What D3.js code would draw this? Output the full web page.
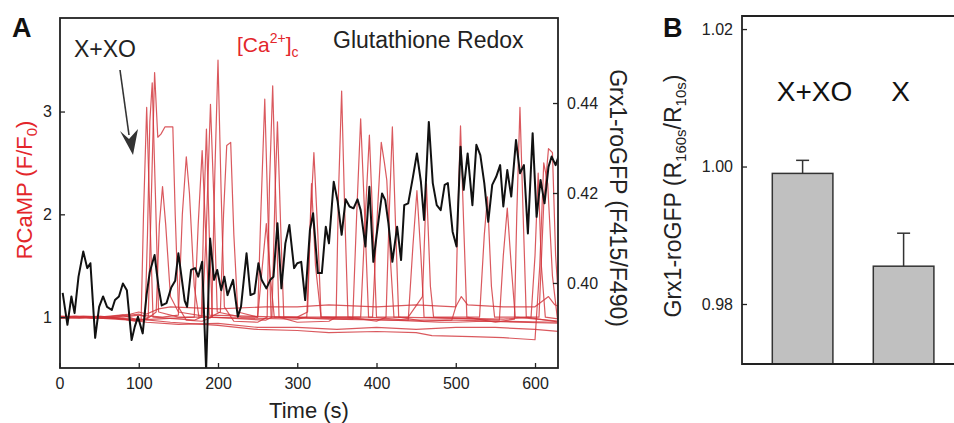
<!DOCTYPE html>
<html>
<head>
<meta charset="utf-8">
<script src="https://cdn.jsdelivr.net/npm/d3@7"></script>
<style>
  body { margin: 0; background: #fff; }
  text { font-family: "Liberation Sans", Arial, sans-serif; }
</style>
</head>
<body>
<script>
// glutathione redox trace (black, right axis)
let redoxTime = [4,10,15,19,24,30,35,39,45,50,55,60,66,70,75,80,85,91,95,99,105,110,114,120,125,129,135,141,146,150,158,161,166,171,175,180,185,190,195,199,204,208,212,219,225,229,236,241,246,251,255,261,266,270,275,280,285,290,296,300,305,310,316,320,326,331,336,340,346,351,356,361,366,371,376,380,386,391,396,401,407,411,415,420,426,431,435,440,446,451,456,460,466,471,476,481,486,490,496,501,506,510,515,521,526,531,536,541,546,551,556,560,565,570,576,581,586,591,597,602,607,612,617,621,626,631];
let redoxValue = [0.3978,0.3907,0.3970,0.3933,0.4014,0.4070,0.4033,0.4044,0.3878,0.3947,0.3970,0.3947,0.3940,0.3962,0.3970,0.3999,0.3984,0.3873,0.3903,0.3925,0.3888,0.3975,0.4025,0.4062,0.3990,0.3950,0.3955,0.3990,0.4005,0.4066,0.3960,0.3947,0.4029,0.4033,0.4014,0.4047,0.3807,0.4099,0.4007,0.4029,0.3984,0.4014,0.3973,0.4007,0.3925,0.3947,0.4066,0.3973,0.3977,0.4044,0.4007,0.3988,0.4007,0.4014,0.4133,0.3988,0.4088,0.4129,0.4033,0.4044,0.4047,0.3962,0.4118,0.4155,0.4022,0.4022,0.4125,0.4088,0.4225,0.4181,0.4107,0.4186,0.4170,0.4166,0.4186,0.4162,0.4081,0.4214,0.4047,0.4118,0.4199,0.4184,0.4133,0.4047,0.4125,0.4051,0.4173,0.4177,0.4236,0.4288,0.4225,0.4140,0.4358,0.4222,0.4173,0.4162,0.4218,0.4222,0.4114,0.4081,0.4303,0.4207,0.4288,0.4173,0.4307,0.4284,0.4222,0.4136,0.4218,0.4236,0.4262,0.4170,0.4251,0.4192,0.4318,0.4244,0.4262,0.4110,0.4333,0.4147,0.4229,0.4177,0.4258,0.4281,0.4262,0.4288];

// RCaMP traces of single cells, [time, F/F0]
let cell1 = [[0,1.0],[20,1.01],[40,0.99],[60,1.0],[80,1.02],[95,0.98],[105,0.97],[112,1.0],[116,2.2],[120,3.38],[124,2.75],[128,2.78],[133,2.85],[143,2.85],[146,2.0],[150,1.1],[160,0.97],[180,0.96],[192,1.0],[196,2.4],[200,3.5],[204,2.2],[208,1.1],[220,0.96],[250,0.95],[262,1.0],[265,2.3],[269,3.25],[273,2.1],[277,1.0],[300,0.95],[340,0.96],[349,1.0],[352,2.2],[356,3.2],[360,2.0],[364,1.0],[400,0.96],[412,1.0],[416,2.0],[420,2.85],[424,1.9],[428,1.0],[460,0.96],[495,0.97],[500,1.1],[503,2.1],[506,2.86],[510,1.9],[514,1.0],[550,0.95],[574,0.98],[577,2.0],[581,3.04],[585,2.0],[589,1.0],[631,0.95]];
let cell2 = [[0,0.99],[30,1.0],[60,0.99],[90,1.02],[100,1.03],[108,1.0],[111,1.8],[114,2.9],[117,3.28],[121,2.2],[125,1.05],[150,1.0],[180,1.0],[185,1.8],[190.5,3.07],[195,2.1],[199,1.05],[230,1.0],[250,1.0],[254,2.0],[259,3.12],[263,2.0],[267,1.0],[300,1.0],[313,1.05],[317,2.0],[321,2.6],[326,1.8],[330,1.0],[380,1.0],[386,2.0],[391,2.77],[396,1.8],[400,1.0],[440,1.0],[458,1.2],[463,2.3],[468,1.3],[472,1.0],[530,1.0],[536,1.8],[540,2.17],[545,1.3],[549,1.0],[605,1.0],[611,2.1],[617,2.64],[622,2.6],[626,1.6],[631,1.0]];
let cell3 = [[0,1.0],[25,0.99],[50,1.01],[75,0.99],[95,0.96],[103,0.97],[106,2.0],[110,3.04],[114,2.0],[118,1.0],[170,0.97],[179,1.0],[182,2.0],[185.4,2.83],[189,1.8],[193,1.0],[260,0.97],[268,1.0],[272,2.2],[275,2.9],[279,1.9],[283,1.0],[370,0.98],[375,2.0],[380,2.93],[385,2.0],[390,1.0],[440,0.97],[446,1.7],[451,2.23],[456,1.6],[460,1.0],[555,0.97],[560,1.6],[565,2.06],[570,1.5],[575,1.0],[631,0.96]];
let cell4 = [[0,1.0],[30,1.01],[60,1.0],[90,0.97],[110,0.98],[122,1.05],[126,1.9],[130,2.27],[134,1.9],[140,1.2],[150,1.05],[190,1.0],[203,1.05],[207,2.0],[211,2.67],[216,2.7],[220,1.8],[225,1.05],[250,1.0],[256,1.5],[261,1.91],[266,1.4],[271,1.0],[395,1.0],[401,2.0],[406,2.7],[410,2.5],[413,2.33],[418,1.5],[422,1.0],[560,0.98],[595,1.0],[600,1.6],[604,2.4],[608,1.5],[613,1.0],[631,0.98]];
let cell5 = [[0,1.01],[40,1.0],[80,1.0],[100,1.02],[130,1.0],[150,1.02],[155,2.0],[160,2.56],[164,2.2],[170,1.3],[176,1.0],[300,0.98],[312,1.0],[315,1.6],[318,2.3],[323,1.5],[330,1.0],[480,0.95],[500,0.95],[535,0.96],[631,0.94]];
let cell6 = [[0,1.0],[50,1.0],[90,1.03],[100,1.05],[110,1.03],[125,1.08],[140,1.1],[200,1.08],[260,1.1],[300,1.1],[340,1.12],[400,1.1],[450,1.12],[500,1.1],[507,1.2],[515,1.12],[560,1.1],[600,1.1],[617,1.2],[625,1.12],[631,1.1]];
let cell7 = [[0,1.0],[50,0.99],[90,0.97],[110,0.95],[150,0.93],[200,0.94],[250,0.9],[300,0.9],[350,0.88],[400,0.9],[450,0.88],[500,0.9],[550,0.9],[600,0.88],[631,0.86]];
let cell8 = [[0,1.0],[60,0.99],[100,0.98],[140,0.95],[200,0.92],[250,0.88],[300,0.87],[340,0.85],[400,0.86],[450,0.85],[470,0.82],[520,0.81],[560,0.8],[600,0.78],[606,1.5],[611,2.5],[616,2.3],[622,1.4],[628,1.0],[631,0.92]];
let cell9 = [[0,0.99],[45,1.0],[85,0.98],[100,0.97],[120,0.98],[170,1.0],[175,1.9],[180,2.62],[184,1.9],[189,1.02],[280,1.0],[340,0.98],[420,0.97],[500,0.97],[560,0.96],[631,0.95]];

let timeTicks = [0,100,200,300,400,500,600];
let rcampTicks = [1,2,3];
let grxTicks = [0.40,0.42,0.44];

// panel B
let groups = ['X+XO', 'X'];
let ratioMean = [0.9990, 0.9855];
let ratioErr = [0.0019, 0.0048];
let ratioTicks = [0.98, 1.00, 1.02];

let svg = d3.select('body').append('svg').attr('width', 954).attr('height', 423);

let x = d3.scaleLinear().domain([0, 629]).range([59.5, 558]);
let yL = d3.scaleLinear().domain([0.505, 3.91]).range([368, 18]);
let yR = d3.scaleLinear().domain([0.3811, 0.4589]).range([368, 18]);

svg.append('clipPath').attr('id', 'clipA')
  .append('rect').attr('x', 60).attr('y', 18).attr('width', 498).attr('height', 350);

let plot = svg.append('g').attr('clip-path', 'url(#clipA)');

let cells = [cell9, cell7, cell8, cell6, cell5, cell4, cell3, cell2, cell1];
let redLine = d3.line().x(function(d) {return x(d[0])}).y(function(d) {return yL(d[1])});
plot.selectAll('path.cell').data(cells).enter().append('path')
  .attr('class', 'cell')
  .attr('d', redLine)
  .attr('fill', 'none')
  .attr('stroke', '#d2343a')
  .attr('stroke-opacity', 0.82)
  .attr('stroke-width', 1.2)
  .attr('stroke-linejoin', 'round');

let redoxLine = d3.line()
  .x(function(d, i) {return x(redoxTime[i])})
  .y(function(d) {return yR(d)});
plot.append('path').datum(redoxValue)
  .attr('d', redoxLine)
  .attr('fill', 'none')
  .attr('stroke', '#111')
  .attr('stroke-width', 2)
  .attr('stroke-linejoin', 'round');

// axes, ticks pointing inward
let axB = svg.append('g').attr('transform', 'translate(0,368)')
  .call(d3.axisBottom(x).tickValues(timeTicks).tickSize(-5).tickPadding(10));
let axL = svg.append('g').attr('transform', 'translate(60,0)')
  .call(d3.axisLeft(yL).tickValues(rcampTicks).tickFormat(d3.format('d')).tickSize(-5).tickPadding(8));
let axR = svg.append('g').attr('transform', 'translate(558,0)')
  .call(d3.axisRight(yR).tickValues(grxTicks).tickFormat(d3.format('.2f')).tickSize(-5).tickPadding(9));
[axB, axL, axR].forEach(function(a) {
  a.select('.domain').remove();
  a.selectAll('line').attr('stroke', '#222').attr('stroke-width', 1.3);
  a.selectAll('text').attr('font-size', '16px').attr('fill', '#222')
    .style('font-family', '"Liberation Sans", Arial, sans-serif');
});

svg.append('rect').attr('x', 60).attr('y', 18).attr('width', 498).attr('height', 350)
  .attr('fill', 'none').attr('stroke', '#222').attr('stroke-width', 1.8);

// labels panel A
svg.append('text').attr('x', 12).attr('y', 37).text('A')
  .attr('font-size', '27px').attr('font-weight', 'bold').attr('fill', '#111');

svg.append('text').attr('x', 309).attr('y', 418).attr('text-anchor', 'middle')
  .attr('font-size', '22px').attr('fill', '#222').text('Time (s)');

let leftLab = svg.append('text').attr('transform', 'translate(32,190) rotate(-90)')
  .attr('text-anchor', 'middle').attr('font-size', '22px').attr('fill', '#e3262b');
leftLab.append('tspan').text('RCaMP (F/F');
leftLab.append('tspan').attr('font-size', '15px').attr('dy', 5).text('0');
leftLab.append('tspan').attr('dy', -5).text(')');

svg.append('text').attr('transform', 'translate(610,198) rotate(90)')
  .attr('text-anchor', 'middle').attr('font-size', '23px').attr('fill', '#222')
  .text('Grx1-roGFP (F415/F490)');

svg.append('text').attr('x', 74).attr('y', 57).attr('font-size', '23px').attr('fill', '#222').text('X+XO');

let ca = svg.append('text').attr('x', 237).attr('y', 52).attr('font-size', '21px').attr('fill', '#e3262b');
ca.append('tspan').text('[Ca');
ca.append('tspan').attr('font-size', '14px').attr('dy', -9).text('2+');
ca.append('tspan').attr('dy', 9).text(']');
ca.append('tspan').attr('font-size', '14px').attr('dy', 5).text('c');

svg.append('text').attr('x', 333).attr('y', 48).attr('font-size', '23px').attr('fill', '#222').text('Glutathione Redox');

// arrow
svg.append('line').attr('x1', 120).attr('y1', 70).attr('x2', 129).attr('y2', 135)
  .attr('stroke', '#333').attr('stroke-width', 1.6);
svg.append('path').attr('d', 'M120,131 L129,139 L138,129 L133,155 Z').attr('fill', '#333');

// panel B
let yB = d3.scaleLinear().domain([0.97127, 1.0219]).range([364, 16]);
let xB = d3.scaleBand().domain(groups).range([742, 964.2]).paddingInner(0.4).paddingOuter(0.3);

svg.append('g').selectAll('line.err').data(groups).enter().append('line')
  .attr('x1', function(d) {return xB(d) + xB.bandwidth() / 2})
  .attr('x2', function(d) {return xB(d) + xB.bandwidth() / 2})
  .attr('y1', function(d, i) {return yB(ratioMean[i])})
  .attr('y2', function(d, i) {return yB(ratioMean[i] + ratioErr[i])})
  .attr('stroke', '#333').attr('stroke-width', 1.5);
svg.append('g').selectAll('line.cap').data(groups).enter().append('line')
  .attr('x1', function(d) {return xB(d) + xB.bandwidth() / 2 - 6.5})
  .attr('x2', function(d) {return xB(d) + xB.bandwidth() / 2 + 6.5})
  .attr('y1', function(d, i) {return yB(ratioMean[i] + ratioErr[i])})
  .attr('y2', function(d, i) {return yB(ratioMean[i] + ratioErr[i])})
  .attr('stroke', '#333').attr('stroke-width', 1.5);

svg.append('g').selectAll('rect').data(groups).enter().append('rect')
  .attr('x', function(d) {return xB(d)})
  .attr('width', xB.bandwidth())
  .attr('y', function(d, i) {return yB(ratioMean[i])})
  .attr('height', function(d, i) {return 364 - yB(ratioMean[i])})
  .attr('fill', '#c0c0c0').attr('stroke', '#333').attr('stroke-width', 1.5);

let axBL = svg.append('g').attr('transform', 'translate(742,0)')
  .call(d3.axisLeft(yB).tickValues(ratioTicks).tickFormat(d3.format('.2f')).tickSize(-5).tickPadding(9));
axBL.select('.domain').remove();
axBL.selectAll('line').attr('stroke', '#222').attr('stroke-width', 1.3);
axBL.selectAll('text').attr('font-size', '16px').attr('fill', '#222')
  .style('font-family', '"Liberation Sans", Arial, sans-serif');

svg.append('path').attr('d', 'M960,16 L742,16 L742,364 L960,364')
  .attr('fill', 'none').attr('stroke', '#222').attr('stroke-width', 1.8);

svg.append('text').attr('x', 663).attr('y', 37).text('B')
  .attr('font-size', '27px').attr('font-weight', 'bold').attr('fill', '#111');

svg.selectAll('text.grp').data(groups).enter().append('text')
  .attr('class', 'grp')
  .attr('x', function(d) {return xB(d) + xB.bandwidth() / 2 + 12 - 15 * groups.indexOf(d)})
  .attr('y', 101)
  .attr('text-anchor', 'middle')
  .attr('font-size', '28px').attr('fill', '#111')
  .text(function(d) {return d});

let bLab = svg.append('text').attr('transform', 'translate(681,196) rotate(-90)')
  .attr('text-anchor', 'middle').attr('font-size', '23px').attr('fill', '#222');
bLab.append('tspan').text('Grx1-roGFP (R');
bLab.append('tspan').attr('font-size', '15px').attr('dy', 5).text('160s');
bLab.append('tspan').attr('dy', -5).text('/R');
bLab.append('tspan').attr('font-size', '15px').attr('dy', 5).text('10s');
bLab.append('tspan').attr('dy', -5).text(')');
</script>
</body>
</html>
